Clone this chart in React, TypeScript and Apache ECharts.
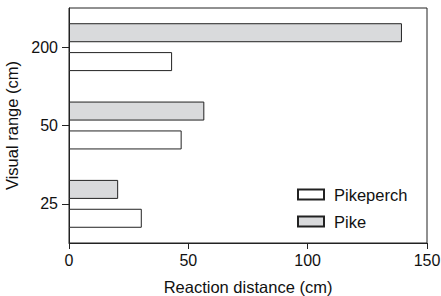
import React, { useEffect, useRef } from "react";
import * as echarts from "echarts";

const categories = ["25", "50", "200"];
const pikeperch = [30.5, 47.2, 43.2];
const pike = [20.6, 56.7, 139.5];
const xTicks = { min: 0, max: 150, interval: 50 };

const FONT = "'Liberation Sans', Arial, sans-serif";

export default function App() {
  const ref = useRef<HTMLDivElement>(null);
  useEffect(() => {
    if (!ref.current) return;
    const chart = echarts.init(ref.current, undefined, { renderer: "svg" });
    chart.setOption({
      animation: false,
      backgroundColor: "#fff",
      textStyle: { fontFamily: FONT },
      grid: {
        left: 69,
        right: 14,
        top: 8,
        bottom: 53,
        show: true,
        borderColor: "#222",
        borderWidth: 1,
        containLabel: false,
        outerBoundsMode: "none",
      },
      legend: {
        orient: "vertical",
        left: 292,
        top: 181,
        itemWidth: 26,
        itemHeight: 10,
        itemGap: 10,
        icon: "rect",
        textStyle: { fontSize: 16.5, color: "#111", fontFamily: FONT, padding: [0, 0, 0, 5] },
        data: ["Pikeperch", "Pike"],
      },
      xAxis: {
        type: "value",
        min: xTicks.min,
        max: xTicks.max,
        interval: xTicks.interval,
        name: "Reaction distance (cm)",
        nameLocation: "middle",
        nameGap: 35,
        nameTextStyle: { fontSize: 16.5, color: "#111", fontFamily: FONT },
        axisLine: { show: true, lineStyle: { color: "#222", width: 1 } },
        axisTick: { show: true, length: 6, lineStyle: { color: "#222" } },
        axisLabel: { fontSize: 16, color: "#111", margin: 9, fontFamily: FONT },
        splitLine: { show: false },
      },
      yAxis: {
        type: "category",
        data: categories,
        name: "Visual range (cm)",
        nameLocation: "middle",
        nameGap: 47,
        nameTextStyle: { fontSize: 16.5, color: "#111", fontFamily: FONT },
        axisLine: { show: true, lineStyle: { color: "#222", width: 1 } },
        axisTick: { show: true, alignWithLabel: true, length: 7, lineStyle: { color: "#222" } },
        axisLabel: { fontSize: 16, color: "#111", margin: 11, fontFamily: FONT },
        splitLine: { show: false },
      },
      series: [
        {
          name: "Pike",
          type: "bar",
          data: pike,
          barWidth: 19,
          barGap: "52%",
          itemStyle: { color: "#d9dadc", borderColor: "#222", borderWidth: 1 },
        },
        {
          name: "Pikeperch",
          type: "bar",
          data: pikeperch,
          barWidth: 19,
          barGap: "52%",
          itemStyle: { color: "#ffffff", borderColor: "#222", borderWidth: 1 },
        },
      ],
    });
    return () => chart.dispose();
  }, []);
  return <div ref={ref} style={{ width: 441, height: 296, position: "absolute", left: 0, top: 0 }} />;
}
